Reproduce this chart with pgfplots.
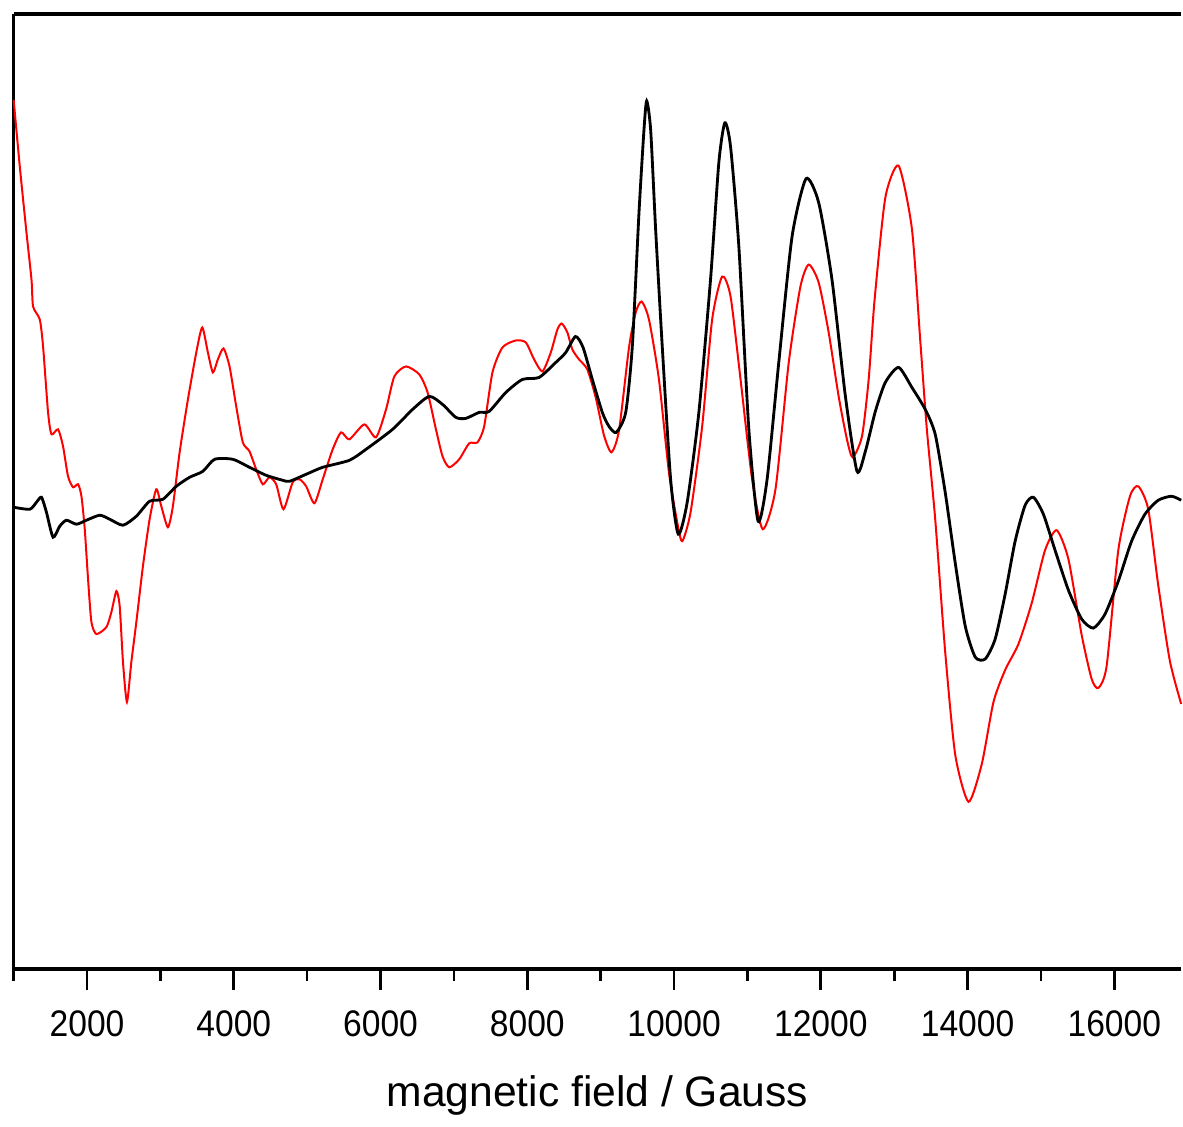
\documentclass[border=0pt]{standalone}
\usepackage{fontspec}
\setmainfont{Liberation Sans}
\usepackage{pgfplots}
\pgfplotsset{compat=1.18}

\begin{document}
\begin{tikzpicture}
\begin{axis}[
    scale only axis,
    width=350.76pt, height=287pt,
    xmin=1000, xmax=16911,
    ymin=-460.7, ymax=496,
    axis lines*=left,
    axis line style={line width=1.1pt},
    clip=false,
    xtick={2000,4000,...,16000},
    minor xtick={1000,3000,...,15000},
    ytick=\empty,
    xtick align=outside,
    major tick length=6.3pt,
    minor tick length=3.6pt,
    tick style={line width=0.8pt, black},
    scaled x ticks=false,
    xticklabel style={font=\fontsize{10.1}{12}\selectfont, anchor=base, yscale=1.1, yshift=-12.5pt},
    /pgf/number format/assume math mode=true,
    /pgf/number format/set thousands separator={},
    xlabel={magnetic field / Gauss},
    xlabel style={font=\fontsize{12.8}{15}\selectfont, at={(axis description cs:0.5,0)}, anchor=base, yshift=-41.3pt},
]

% red spectrum
\addplot[red, line width=0.6pt, smooth, tension=0.4] coordinates {
(1000,410)(1084,343)(1175,277)(1243,230)(1265,203)(1356,190)(1401,163)(1469,97)
(1516,75)(1605,80)(1673,63)(1741,33)(1810,22)(1878,25)(1924,13)(1969,-20)
(2014,-70)(2060,-113)(2128,-125)(2264,-118)(2332,-103)(2400,-82)(2445,-97)(2490,-153)
(2544,-193)(2604,-153)(2672,-113)(2762,-57)(2853,-10)(2944,20)(3012,3)(3102,-18)
(3170,3)(3262,57)(3375,110)(3489,157)(3570,182)(3647,157)(3715,137)(3783,150)
(3860,161)(3942,143)(4033,103)(4123,67)(4214,58)(4305,40)(4395,25)(4486,32)
(4578,25)(4677,0)(4803,27)(4895,30)(4986,23)(5099,6)(5212,30)(5348,60)
(5462,77)(5575,70)(5779,85)(5938,72)(6075,100)(6188,133)(6347,143)(6528,135)
(6641,117)(6755,80)(6845,53)(6936,42)(7072,50)(7208,66)(7321,67)(7412,83)
(7525,137)(7661,162)(7844,169)(7980,167)(8093,150)(8206,138)(8320,157)(8410,180)
(8470,186)(8546,177)(8614,160)(8705,150)(8818,140)(8932,112)(9045,74)(9147,57)
(9250,79)(9386,162)(9477,197)(9558,208)(9658,190)(9794,130)(9930,37)(10043,-13)
(10111,-32)(10225,-3)(10383,83)(10519,190)(10655,233)(10770,213)(10906,130)(11064,30)
(11209,-20)(11382,20)(11563,147)(11722,223)(11835,245)(11971,227)(12107,177)(12243,113)
(12356,70)(12434,52)(12561,73)(12652,130)(12733,210)(12879,312)(13060,344)(13241,281)
(13355,169)(13445,80)(13559,-10)(13695,-143)(13832,-246)(14013,-293)(14194,-255)(14353,-193)
(14512,-161)(14693,-135)(14874,-94)(15056,-41)(15214,-21)(15374,-50)(15555,-126)(15691,-170)
(15782,-179)(15895,-157)(16054,-41)(16213,13)(16326,23)(16462,0)(16598,-76)(16757,-152)
(16911,-195)
};

% black spectrum
\addplot[black, line width=0.85pt, smooth, tension=0.4] coordinates {
(1000,2)(1220,0)(1311,7)(1379,12)(1447,-3)(1537,-28)(1628,-17)(1720,-11)
(1856,-15)(1992,-11)(2173,-6)(2309,-10)(2490,-16)(2672,-7)(2853,8)(3034,10)
(3217,23)(3398,32)(3579,38)(3738,50)(3987,50)(4214,42)(4441,34)(4667,29)
(4759,28)(4986,35)(5212,42)(5575,49)(5802,60)(6164,80)(6437,100)(6664,113)
(6845,105)(7027,92)(7163,91)(7344,97)(7480,98)(7708,117)(7934,130)(8161,132)
(8388,147)(8524,157)(8657,173)(8760,162)(8886,130)(9022,97)(9113,83)(9213,77)
(9341,97)(9431,163)(9522,297)(9590,380)(9627,409)(9681,380)(9749,280)(9839,163)
(9953,30)(10057,-25)(10179,7)(10338,97)(10497,230)(10610,347)(10692,387)(10770,363)
(10883,263)(11019,80)(11145,-12)(11268,30)(11427,147)(11608,273)(11798,331)(11971,307)
(12152,230)(12335,113)(12493,38)(12607,58)(12743,98)(12879,127)(13060,142)(13241,122)
(13423,100)(13559,75)(13695,17)(13832,-54)(13968,-117)(14104,-148)(14240,-150)(14376,-130)
(14512,-85)(14648,-32)(14784,4)(14897,12)(15033,-5)(15192,-41)(15374,-81)(15555,-110)
(15714,-119)(15873,-105)(16054,-72)(16235,-32)(16417,-5)(16598,9)(16779,13)(16911,9)
};

% top frame line (right side of the frame is cut off in the original)
\draw[line width=1.1pt] (rel axis cs:0,1) -- (rel axis cs:1,1);
\end{axis}
\path (current axis.north west) ++(-4.1pt,4.2pt);
\path (current axis.south west) ++(0,-45.1pt);
\end{tikzpicture}
\end{document}
